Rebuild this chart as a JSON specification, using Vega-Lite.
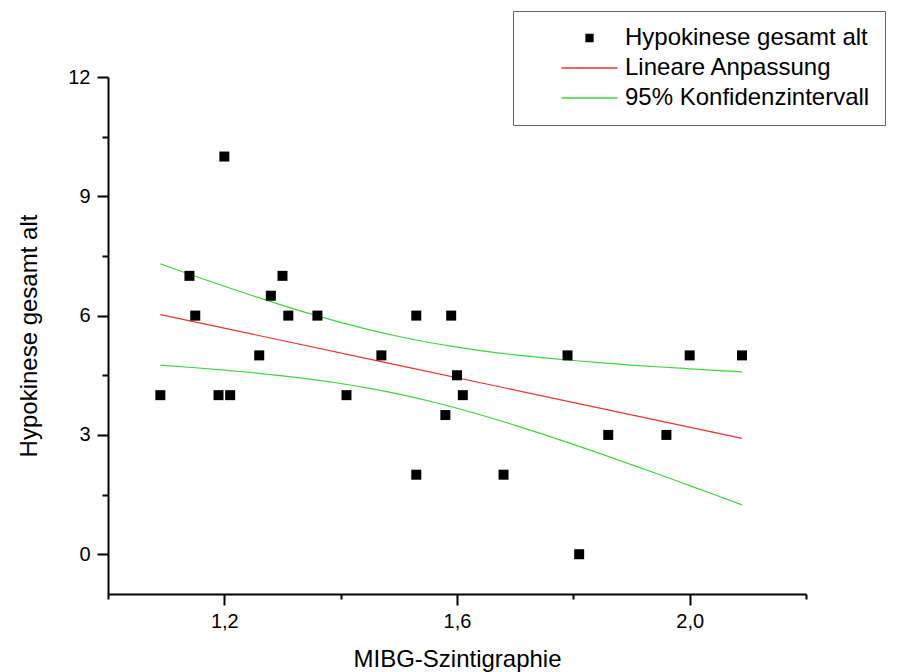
{
  "$schema": "https://vega.github.io/schema/vega-lite/v6.json",
  "width": 698,
  "height": 517,
  "autosize": {"type": "none"},
  "padding": {"left": 108, "top": 77, "right": 110, "bottom": 78},
  "background": "white",
  "config": {"view": {"stroke": null}, "font": "Liberation Sans"},
  "datasets": {
    "points": [
      {"x": 1.09, "y": 4, "series": "Hypokinese gesamt alt"},
      {"x": 1.14, "y": 7, "series": "Hypokinese gesamt alt"},
      {"x": 1.15, "y": 6, "series": "Hypokinese gesamt alt"},
      {"x": 1.19, "y": 4, "series": "Hypokinese gesamt alt"},
      {"x": 1.20, "y": 10, "series": "Hypokinese gesamt alt"},
      {"x": 1.21, "y": 4, "series": "Hypokinese gesamt alt"},
      {"x": 1.26, "y": 5, "series": "Hypokinese gesamt alt"},
      {"x": 1.28, "y": 6.5, "series": "Hypokinese gesamt alt"},
      {"x": 1.30, "y": 7, "series": "Hypokinese gesamt alt"},
      {"x": 1.31, "y": 6, "series": "Hypokinese gesamt alt"},
      {"x": 1.36, "y": 6, "series": "Hypokinese gesamt alt"},
      {"x": 1.41, "y": 4, "series": "Hypokinese gesamt alt"},
      {"x": 1.47, "y": 5, "series": "Hypokinese gesamt alt"},
      {"x": 1.53, "y": 6, "series": "Hypokinese gesamt alt"},
      {"x": 1.53, "y": 2, "series": "Hypokinese gesamt alt"},
      {"x": 1.58, "y": 3.5, "series": "Hypokinese gesamt alt"},
      {"x": 1.59, "y": 6, "series": "Hypokinese gesamt alt"},
      {"x": 1.60, "y": 4.5, "series": "Hypokinese gesamt alt"},
      {"x": 1.61, "y": 4, "series": "Hypokinese gesamt alt"},
      {"x": 1.68, "y": 2, "series": "Hypokinese gesamt alt"},
      {"x": 1.79, "y": 5, "series": "Hypokinese gesamt alt"},
      {"x": 1.81, "y": 0, "series": "Hypokinese gesamt alt"},
      {"x": 1.86, "y": 3, "series": "Hypokinese gesamt alt"},
      {"x": 1.96, "y": 3, "series": "Hypokinese gesamt alt"},
      {"x": 2.00, "y": 5, "series": "Hypokinese gesamt alt"},
      {"x": 2.09, "y": 5, "series": "Hypokinese gesamt alt"}
    ],
    "fit": [
      {"x": 1.09, "y": 6.026, "series": "Lineare Anpassung"},
      {"x": 1.50, "y": 4.750, "series": "Lineare Anpassung"},
      {"x": 2.09, "y": 2.913, "series": "Lineare Anpassung"}
    ],
    "ci": [
      {"x": 1.09, "y": 7.300, "bound": "upper", "series": "95% Konfidenzintervall"},
      {"x": 1.15, "y": 6.990, "bound": "upper", "series": "95% Konfidenzintervall"},
      {"x": 1.20, "y": 6.738, "bound": "upper", "series": "95% Konfidenzintervall"},
      {"x": 1.25, "y": 6.494, "bound": "upper", "series": "95% Konfidenzintervall"},
      {"x": 1.30, "y": 6.259, "bound": "upper", "series": "95% Konfidenzintervall"},
      {"x": 1.35, "y": 6.036, "bound": "upper", "series": "95% Konfidenzintervall"},
      {"x": 1.40, "y": 5.829, "bound": "upper", "series": "95% Konfidenzintervall"},
      {"x": 1.45, "y": 5.641, "bound": "upper", "series": "95% Konfidenzintervall"},
      {"x": 1.50, "y": 5.474, "bound": "upper", "series": "95% Konfidenzintervall"},
      {"x": 1.55, "y": 5.330, "bound": "upper", "series": "95% Konfidenzintervall"},
      {"x": 1.60, "y": 5.207, "bound": "upper", "series": "95% Konfidenzintervall"},
      {"x": 1.65, "y": 5.103, "bound": "upper", "series": "95% Konfidenzintervall"},
      {"x": 1.70, "y": 5.014, "bound": "upper", "series": "95% Konfidenzintervall"},
      {"x": 1.75, "y": 4.937, "bound": "upper", "series": "95% Konfidenzintervall"},
      {"x": 1.80, "y": 4.871, "bound": "upper", "series": "95% Konfidenzintervall"},
      {"x": 1.85, "y": 4.811, "bound": "upper", "series": "95% Konfidenzintervall"},
      {"x": 1.90, "y": 4.757, "bound": "upper", "series": "95% Konfidenzintervall"},
      {"x": 1.95, "y": 4.708, "bound": "upper", "series": "95% Konfidenzintervall"},
      {"x": 2.00, "y": 4.662, "bound": "upper", "series": "95% Konfidenzintervall"},
      {"x": 2.05, "y": 4.618, "bound": "upper", "series": "95% Konfidenzintervall"},
      {"x": 2.09, "y": 4.585, "bound": "upper", "series": "95% Konfidenzintervall"},
      {"x": 1.09, "y": 4.753, "bound": "lower", "series": "95% Konfidenzintervall"},
      {"x": 1.15, "y": 4.689, "bound": "lower", "series": "95% Konfidenzintervall"},
      {"x": 1.20, "y": 4.630, "bound": "lower", "series": "95% Konfidenzintervall"},
      {"x": 1.25, "y": 4.563, "bound": "lower", "series": "95% Konfidenzintervall"},
      {"x": 1.30, "y": 4.486, "bound": "lower", "series": "95% Konfidenzintervall"},
      {"x": 1.35, "y": 4.397, "bound": "lower", "series": "95% Konfidenzintervall"},
      {"x": 1.40, "y": 4.293, "bound": "lower", "series": "95% Konfidenzintervall"},
      {"x": 1.45, "y": 4.170, "bound": "lower", "series": "95% Konfidenzintervall"},
      {"x": 1.50, "y": 4.026, "bound": "lower", "series": "95% Konfidenzintervall"},
      {"x": 1.55, "y": 3.859, "bound": "lower", "series": "95% Konfidenzintervall"},
      {"x": 1.60, "y": 3.671, "bound": "lower", "series": "95% Konfidenzintervall"},
      {"x": 1.65, "y": 3.464, "bound": "lower", "series": "95% Konfidenzintervall"},
      {"x": 1.70, "y": 3.241, "bound": "lower", "series": "95% Konfidenzintervall"},
      {"x": 1.75, "y": 3.006, "bound": "lower", "series": "95% Konfidenzintervall"},
      {"x": 1.80, "y": 2.762, "bound": "lower", "series": "95% Konfidenzintervall"},
      {"x": 1.85, "y": 2.510, "bound": "lower", "series": "95% Konfidenzintervall"},
      {"x": 1.90, "y": 2.252, "bound": "lower", "series": "95% Konfidenzintervall"},
      {"x": 1.95, "y": 1.991, "bound": "lower", "series": "95% Konfidenzintervall"},
      {"x": 2.00, "y": 1.725, "bound": "lower", "series": "95% Konfidenzintervall"},
      {"x": 2.05, "y": 1.457, "bound": "lower", "series": "95% Konfidenzintervall"},
      {"x": 2.09, "y": 1.241, "bound": "lower", "series": "95% Konfidenzintervall"}
    ]
  },
  "encoding": {
    "x": {
      "field": "x",
      "type": "quantitative",
      "title": "MIBG-Szintigraphie",
      "scale": {"domain": [1.0, 2.2], "nice": false, "zero": false},
      "axis": {
        "values": [1.0, 1.2, 1.4, 1.6, 1.8, 2.0, 2.2],
        "labelExpr": "round(datum.value*10) % 4 === 0 ? replace(format(datum.value, '.1f'), '.', ',') : ''",
        "tickSize": {"condition": {"test": "round(datum.value*10) % 4 !== 0", "value": 5}, "value": 11},
        "tickWidth": 2,
        "tickColor": "black",
        "domainColor": "black",
        "domainWidth": 2,
        "grid": false,
        "labelFont": "Liberation Sans",
        "labelFontSize": 20,
        "labelColor": "black",
        "labelPadding": 6,
        "labelFlush": false,
        "labelOverlap": false,
        "titleFont": "Liberation Sans",
        "titleFontSize": 24,
        "titleFontWeight": "normal",
        "titleColor": "black",
        "titlePadding": 16
      }
    },
    "y": {
      "field": "y",
      "type": "quantitative",
      "title": "Hypokinese gesamt alt",
      "scale": {"domain": [-1, 12], "nice": false, "zero": false},
      "axis": {
        "values": [0, 1.5, 3, 4.5, 6, 7.5, 9, 10.5, 12],
        "labelExpr": "datum.value % 3 === 0 ? format(datum.value, 'd') : ''",
        "tickSize": {"condition": {"test": "datum.value % 3 !== 0", "value": 6}, "value": 11},
        "tickWidth": 2,
        "tickColor": "black",
        "domainColor": "black",
        "domainWidth": 2,
        "grid": false,
        "labelFont": "Liberation Sans",
        "labelFontSize": 20,
        "labelColor": "black",
        "labelPadding": 7,
        "labelOverlap": false,
        "titleFont": "Liberation Sans",
        "titleFontSize": 24,
        "titleFontWeight": "normal",
        "titleColor": "black",
        "titlePadding": 26
      }
    },
    "color": {
      "field": "series",
      "type": "nominal",
      "scale": {
        "domain": ["Hypokinese gesamt alt", "Lineare Anpassung", "95% Konfidenzintervall"],
        "range": ["#000000", "#e8322f", "#3fd43f"]
      },
      "legend": {
        "title": null,
        "orient": "none",
        "legendX": 405,
        "legendY": -66,
        "padding": 15,
        "strokeColor": "#666666",
        "fillColor": "white",
        "symbolSize": 196,
        "symbolStrokeWidth": 1.3,
        "symbolOffset": 49.5,
        "labelOffset": 23.5,
        "labelFont": "Liberation Sans",
        "labelFontSize": 24,
        "labelColor": "black",
        "labelLimit": 400,
        "rowPadding": 6,
        "encode": {
          "symbols": {
            "update": {
              "shape": {"signal": "datum.value === 'Hypokinese gesamt alt' ? 'M-0.5,-0.5H0.5V0.5H-0.5Z' : 'M-4,0H4'"},
              "fill": {"signal": "datum.value === 'Hypokinese gesamt alt' ? '#000000' : 'transparent'"},
              "stroke": {"signal": "datum.value === 'Hypokinese gesamt alt' ? 'transparent' : (datum.value === 'Lineare Anpassung' ? '#e8322f' : '#3fd43f')"},
              "strokeWidth": {"value": 1.3},
              "opacity": {"value": 1}
            }
          }
        }
      }
    }
  },
  "layer": [
    {
      "data": {"name": "ci"},
      "mark": {"type": "line", "strokeWidth": 1.2, "interpolate": "monotone"},
      "encoding": {"detail": {"field": "bound", "type": "nominal"}}
    },
    {
      "data": {"name": "fit"},
      "mark": {"type": "line", "strokeWidth": 1.2},
      "encoding": {}
    },
    {
      "data": {"name": "points"},
      "mark": {"type": "point", "shape": "square", "filled": true, "size": 100, "opacity": 1, "strokeWidth": 0},
      "encoding": {}
    }
  ]
}
